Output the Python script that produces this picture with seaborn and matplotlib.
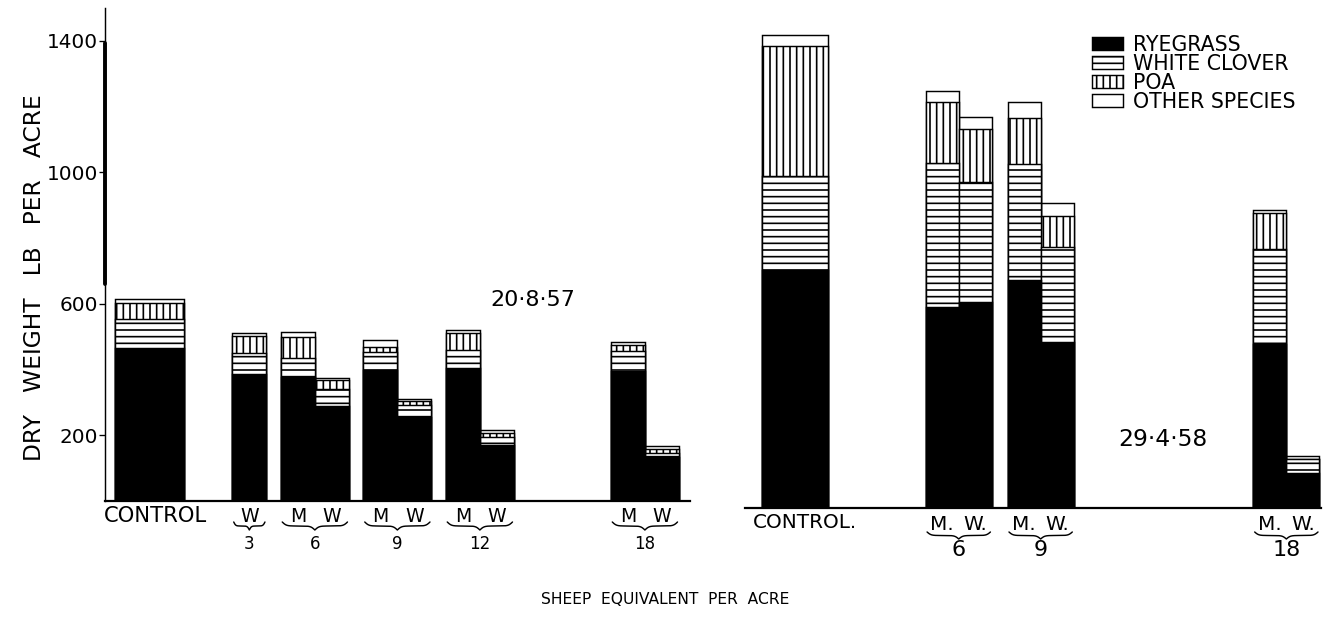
import numpy as np
import pandas as pd
import matplotlib
matplotlib.use("Agg")
import matplotlib.pyplot as plt
from matplotlib.patches import Patch
import seaborn as sns

# ---------------- data ----------------
species = ["RYEGRASS", "WHITE CLOVER", "POA", "OTHER SPECIES"]
species_face = ["black", "white", "white", "white"]
species_hatch = ["", "--", "||", ""]

# panel 20.8.57
sheep_57 = [3, 6, 6, 9, 9, 12, 12, 18, 18]
method_57 = ["W", "M", "W", "M", "W", "M", "W", "M", "W"]
rye_57 = [386, 377, 290, 398, 255, 404, 171, 397, 133]
clover_57 = [64, 58, 50, 55, 37, 56, 25, 58, 14]
poa_57 = [51, 65, 29, 15, 11, 51, 12, 21, 12]
other_57 = [10, 13, 5, 22, 7, 8, 8, 7, 7]
control_57 = [465, 88, 48, 13]      # ryegrass, clover, poa, other

# panel 29.4.58
sheep_58 = [6, 6, 9, 9, 18, 18]
method_58 = ["M", "W", "M", "W", "M", "W"]
rye_58 = [612, 628, 693, 504, 498, 106]
clover_58 = [438, 364, 353, 289, 289, 42]
poa_58 = [185, 162, 141, 96, 111, 0]
other_58 = [34, 35, 48, 40, 9, 9]
control_58 = [723, 287, 397, 33]

y_ticks = [200, 600, 1000, 1400]

# ---------------- style ----------------
sns.set_theme(style="ticks")
plt.rcParams["font.family"] = ["DejaVu Sans"]
plt.rcParams["hatch.linewidth"] = 1.5
plt.rcParams["hatch.color"] = "black"
plt.rcParams["text.color"] = "black"
plt.rcParams["axes.labelcolor"] = "black"
plt.rcParams["xtick.color"] = "black"
plt.rcParams["ytick.color"] = "black"
plt.rcParams["legend.labelcolor"] = "black"

W, H = 1331, 621
DPI = 80
fig = plt.figure(figsize=(W / DPI, H / DPI), dpi=DPI)
fig.patch.set_facecolor("white")


def rect(x0, x1, ybase, ytop):
    return [x0 / W, 1 - ybase / H, (x1 - x0) / W, (ybase - ytop) / H]


axL = fig.add_axes(rect(105, 690, 501, 8))
axR = fig.add_axes(rect(745, 1321, 508, 15))
for ax in (axL, axR):
    ax.set_facecolor("white")


def brace(ax, x0, x1, top_px, depth_px, ax_h_px):
    t = np.linspace(0, 0.5, 120)
    b = 32.0
    sig = lambda z: 1.0 / (1.0 + np.exp(-z))
    half = sig(b * t) + sig(b * (t - 0.5)) - 0.5
    half = (half - half[0]) / (half[-1] - half[0])
    shape = np.concatenate([half, half[-2::-1]])
    xs = np.linspace(x0, x1, shape.size)
    ys = -(top_px + depth_px * shape) / ax_h_px
    ax.plot(xs, ys, color="black", lw=1.3, clip_on=False,
            transform=ax.get_xaxis_transform())


def draw_panel(ax, sheep, method, rye, clover, poa, other, control,
               w, wc, xlim, ax_h_px, cfg):
    xs = [s + (-w / 2 if m == "M" else w / 2) for s, m in zip(sheep, method)]
    df = pd.DataFrame({"x": xs, "rye": rye, "clover": clover,
                       "poa": poa, "other": other})
    dfc = pd.DataFrame({"x": [0.0], "rye": [control[0]], "clover": [control[1]],
                        "poa": [control[2]], "other": [control[3]]})
    for d in (df, dfc):
        d["c1"] = d["rye"]
        d["c2"] = d["c1"] + d["clover"]
        d["c3"] = d["c2"] + d["poa"]
        d["c4"] = d["c3"] + d["other"]
    layers = [("c4", "white", ""), ("c3", "white", "||"),
              ("c2", "white", "--"), ("c1", "black", "")]
    for col, fc, hatch in layers:
        for d, width in ((df, 1.0), (dfc, wc)):
            sns.barplot(data=d, x="x", y=col, native_scale=True, width=width,
                        color=fc, saturation=1, edgecolor="black",
                        linewidth=1.3, hatch=hatch, errorbar=None, ax=ax)
    ax.set_xlim(*xlim)
    ax.set_ylim(0, 1500)
    ax.set_xlabel("")
    ax.set_ylabel("")
    ax.set_xticks([])

    tr = ax.get_xaxis_transform()
    ax.annotate(cfg["control"], xy=(0, 0), xycoords=tr,
                xytext=(cfg["ctrl_dx"], -cfg["letter_dy"] + cfg["ctrl_dy"]),
                textcoords="offset pixels", ha="center", va="center",
                fontsize=cfg["ctrl_fs"])
    for x, m in zip(xs, method):
        ax.annotate(m + cfg["suffix"], xy=(x, 0), xycoords=tr,
                    xytext=(0, -cfg["letter_dy"]), textcoords="offset pixels",
                    ha="center", va="center", fontsize=cfg["letter_fs"])
    for s in sorted(set(sheep)):
        gx = [x for x, ss in zip(xs, sheep) if ss == s]
        x0 = min(gx) - w / 2 + 0.05
        x1 = max(gx) + w / 2 - 0.05
        brace(ax, x0, x1, cfg["brace_top"], cfg["brace_depth"], ax_h_px)
        ax.annotate(str(s), xy=((x0 + x1) / 2, 0), xycoords=tr,
                    xytext=(0, -cfg["num_dy"]), textcoords="offset pixels",
                    ha="center", va="center", fontsize=cfg["num_fs"])


cfgL = dict(control="CONTROL", suffix="", ctrl_dx=6, ctrl_dy=0, ctrl_fs=19,
            letter_dy=15, letter_fs=17, brace_top=21, brace_depth=8,
            num_dy=43, num_fs=15)
cfgR = dict(control="CONTROL.", suffix=".", ctrl_dx=10, ctrl_dy=3, ctrl_fs=18,
            letter_dy=17, letter_fs=18, brace_top=24, brace_depth=7,
            num_dy=42, num_fs=20)

draw_panel(axL, sheep_57, method_57, rye_57, clover_57, poa_57, other_57,
           control_57, 1.236, 2.51, (-1.63, 19.64), 493, cfgL)
draw_panel(axR, sheep_58, method_58, rye_58, clover_58, poa_58, other_58,
           control_58, 1.21, 2.45, (-1.83, 19.27), 493, cfgR)

for side in ("top", "right"):
    axL.spines[side].set_visible(False)
for side in ("top", "right", "left"):
    axR.spines[side].set_visible(False)
for ax in (axL, axR):
    ax.spines["bottom"].set_linewidth(2.0)
    ax.spines["bottom"].set_color("black")
axL.spines["left"].set_linewidth(1.3)
axL.spines["left"].set_color("black")
axL.axvline(axL.get_xlim()[0], ymin=0.44, ymax=0.93, color="black", lw=3.5,
            clip_on=False)

axL.set_yticks(y_ticks)
axL.set_yticklabels([str(v) for v in y_ticks])
axL.tick_params(axis="y", direction="out", length=5, width=1.2,
                labelsize=18, pad=1, colors="black", left=True)
axL.tick_params(axis="x", bottom=False)
axR.set_yticks([])
axR.tick_params(axis="both", left=False, bottom=False)

axL.set_ylabel("DRY   WEIGHT   LB   PER   ACRE", fontsize=21, color="black")
axL.yaxis.set_label_coords(-0.10, 0.454)

fig.text(665 / W, 1 - 600 / H, "SHEEP  EQUIVALENT  PER  ACRE",
         ha="center", va="center", fontsize=14, color="black")

axL.text(0.732, 0.408, "20·8·57", transform=axL.transAxes,
         ha="center", va="center", fontsize=20, color="black")
axR.text(0.726, 0.138, "29·4·58", transform=axR.transAxes,
         ha="center", va="center", fontsize=21, color="black")

handles = [Patch(facecolor=fc, edgecolor="black", hatch=h, linewidth=1.3)
           for fc, h in zip(species_face, species_hatch)]
leg = axR.legend(handles, species, loc="upper left",
                 bbox_to_anchor=(1092 / W, 1 - 35 / H),
                 bbox_transform=fig.transFigure, frameon=False, fontsize=18.5,
                 handlelength=1.5, handleheight=0.6, handletextpad=0.5,
                 labelspacing=-0.05, borderpad=0, borderaxespad=0)
for t in leg.get_texts():
    t.set_color("black")

fig.savefig("out.png", dpi=DPI, facecolor="white")
